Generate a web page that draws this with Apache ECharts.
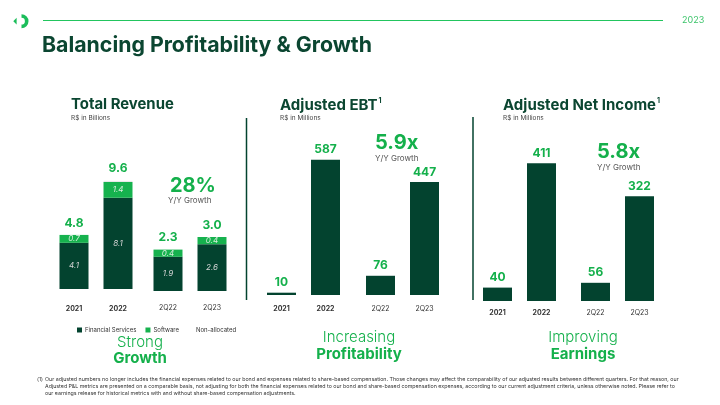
<!DOCTYPE html>
<html>
<head>
<meta charset="utf-8">
<script src="https://cdn.jsdelivr.net/npm/echarts@6/dist/echarts.min.js"></script>
<style>
html,body{margin:0;padding:0;background:#fff;}
#chart{width:720px;height:405px;}
</style>
</head>
<body>
<div id="chart"></div>
<script>
// ---- data ----
const categories = ['2021', '2022', '2Q22', '2Q23'];
const revFinancial = [4.1, 8.1, 1.9, 2.6];
const revSoftware = [0.7, 1.4, 0.4, 0.4];
const revNonAllocated = [0, 0.1, 0, 0];
const revTotals = [4.8, 9.6, 2.3, 3.0];
const ebt = [10, 587, 76, 447];
const netIncome = [40, 411, 56, 322];
const growthRevenue = '28%';
const growthEbt = '5.9x';
const growthNetIncome = '5.8x';

// ---- style ----
const FONT = 'Inter, "Noto Sans", sans-serif';
const DARK = '#03432f';
const GREEN = '#14b04b';
const LIGHT = '#16b24e';
const TITLE = '#0b4631';

const chart = echarts.init(document.getElementById('chart'), null, {renderer: 'canvas'});

const gridDefs = [
  {left: 52, bottom: 116, max: 15},      // rev annual
  {left: 146, bottom: 114, max: 9.5},    // rev quarterly
  {left: 259.5, bottom: 110, max: 760},  // ebt annual
  {left: 358.5, bottom: 110, max: 692},  // ebt quarterly
  {left: 475.5, bottom: 104, max: 540},  // ni annual
  {left: 573.5, bottom: 104, max: 557}   // ni quarterly
];
const labelMargins = [16, 13, 10.5, 10.5, 8.5, 8.5];

const grids = gridDefs.map(g => ({left: g.left, width: 88, top: 120, bottom: g.bottom}));
const xAxes = gridDefs.map((g, i) => ({
  type: 'category', gridIndex: i,
  data: i % 2 === 0 ? categories.slice(0, 2) : categories.slice(2, 4),
  axisLine: {show: false}, axisTick: {show: false},
  axisLabel: {
    margin: labelMargins[i], fontFamily: FONT, fontSize: 7,
    color: '#333', fontWeight: i % 2 === 0 ? 'bold' : 'normal'
  }
}));
const yAxes = gridDefs.map((g, i) => ({
  type: 'value', gridIndex: i, min: 0, max: g.max, show: false,
  splitLine: {show: false}
}));

function part(arr, i) { return i % 2 === 0 ? arr.slice(0, 2) : arr.slice(2, 4); }

const series = [];
[0, 1].forEach(i => {
  const stack = 'rev' + i;
  series.push({
    name: 'Financial Services', type: 'bar', stack, xAxisIndex: i, yAxisIndex: i,
    barWidth: 29, data: part(revFinancial, i),
    itemStyle: {color: DARK},
    label: {show: true, position: 'inside', fontFamily: FONT, fontSize: 8, fontStyle: 'italic',
      color: '#d6d6d6', formatter: p => p.value.toFixed(1)}
  });
  series.push({
    name: 'Software', type: 'bar', stack, xAxisIndex: i, yAxisIndex: i,
    barWidth: 29, data: part(revSoftware, i),
    itemStyle: {color: LIGHT},
    label: {show: true, position: 'inside', fontFamily: FONT, fontSize: 8, fontStyle: 'italic',
      color: '#d9eedf', formatter: p => p.value.toFixed(1)}
  });
  const totals = part(revTotals, i);
  series.push({
    name: 'Non-allocated', type: 'bar', stack, xAxisIndex: i, yAxisIndex: i,
    barWidth: 29, data: part(revNonAllocated, i),
    itemStyle: {color: '#e8e8e8'},
    label: {show: true, position: 'top', distance: 6, fontFamily: FONT, fontSize: 12,
      fontWeight: 'bold', color: GREEN, formatter: p => totals[p.dataIndex].toFixed(1)}
  });
});
[[2, ebt, 'Adjusted EBT'], [3, ebt, 'Adjusted EBT'], [4, netIncome, 'Adjusted Net Income'], [5, netIncome, 'Adjusted Net Income']]
  .forEach(([i, arr, name]) => {
    series.push({
      name, type: 'bar', xAxisIndex: i, yAxisIndex: i, barWidth: 29,
      data: part(arr, i), itemStyle: {color: DARK},
      label: {show: true, position: 'top', distance: 4, fontFamily: FONT, fontSize: 12,
        fontWeight: 'bold', color: GREEN}
    });
  });

function txt(x, y, text, size, color, weight, align) {
  return {type: 'text', x, y, silent: true, style: {
    text, fontFamily: FONT, fontSize: size, fill: color, fontWeight: weight || 'normal',
    textAlign: align || 'left', textVerticalAlign: 'middle'}};
}
function richTitle(x, y, main) {
  return {type: 'text', x, y, silent: true, style: {
    text: '{a|' + main + '}{s|1}', fontFamily: FONT, textVerticalAlign: 'middle',
    rich: {
      a: {fontFamily: FONT, fontSize: 15, fontWeight: 'bold', fill: TITLE, color: TITLE},
      s: {fontFamily: FONT, fontSize: 7, fontWeight: 'bold', fill: TITLE, color: TITLE, verticalAlign: 'top', padding: [0, 0, 6, 1]}
    }}};
}
function vline(x, y1, y2, color, w) {
  return {type: 'line', silent: true, shape: {x1: x, y1, x2: x, y2}, style: {stroke: color, lineWidth: w}};
}

const footnote = [
  'Our adjusted numbers no longer includes the financial expenses related to our bond and expenses related to share-based compensation. Those changes may affect the comparability of our adjusted results between different quarters. For that reason, our',
  'Adjusted P&L metrics are presented on a comparable basis, not adjusting for both the financial expenses related to our bond and share-based compensation expenses, according to our current adjustment criteria, unless otherwise noted. Please refer to',
  'our earnings release for historical metrics with and without share-based compensation adjustments.'
];

const graphics = [
  {type: 'polygon', silent: true, shape: {points: [[16.6, 17.8], [16.6, 24.6], [13.3, 21.2]]}, style: {fill: '#1bbd5a'}},
  {type: 'sector', silent: true, shape: {cx: 21.5, cy: 21.2, r: 7, r0: 3.4, startAngle: -Math.PI / 2, endAngle: Math.PI / 2}, style: {fill: '#1bbd5a'}},
  {type: 'line', silent: true, shape: {x1: 43, y1: 20.5, x2: 663, y2: 20.5}, style: {stroke: '#22c55e', lineWidth: 1.2}},
  txt(682, 20.5, '2023', 9, '#3cc46a'),
  txt(42, 46, 'Balancing Profitability & Growth', 21.3, TITLE, 'bold'),
  txt(71, 105, 'Total Revenue', 14.9, TITLE, 'bold'),
  txt(71, 118, 'R$ in Billions', 6.5, '#444'),
  richTitle(280, 105, 'Adjusted EBT'),
  txt(280, 118, 'R$ in Millions', 6.5, '#444'),
  richTitle(503, 105, 'Adjusted Net Income'),
  txt(503, 118, 'R$ in Millions', 6.5, '#444'),
  vline(246.5, 118, 300, DARK, 1.5),
  vline(473, 117, 300, DARK, 1.5),
  txt(170, 186, growthRevenue, 20, GREEN, 'bold'),
  txt(168, 201, 'Y/Y Growth', 8, '#555'),
  txt(375, 143, growthEbt, 20, GREEN, 'bold'),
  txt(375, 159, 'Y/Y Growth', 8, '#555'),
  txt(597, 152, growthNetIncome, 20, GREEN, 'bold'),
  txt(597, 168, 'Y/Y Growth', 8, '#555'),
  txt(140, 342, 'Strong', 15, GREEN, 300, 'center'),
  txt(140, 358, 'Growth', 15, GREEN, 'bold', 'center'),
  txt(359, 337, 'Increasing', 15, GREEN, 300, 'center'),
  txt(359, 354, 'Profitability', 15, GREEN, 'bold', 'center'),
  txt(583, 337, 'Improving', 15, GREEN, 300, 'center'),
  txt(583, 354, 'Earnings', 15, GREEN, 'bold', 'center'),
  txt(37, 379, '(1)', 5.3, '#333'),
  txt(45, 379, footnote[0], 5.3, '#333'),
  txt(45, 386, footnote[1], 5.3, '#333'),
  txt(45, 393, footnote[2], 5.3, '#333')
];

chart.setOption({
  animation: false,
  backgroundColor: '#fff',
  grid: grids,
  xAxis: xAxes,
  yAxis: yAxes,
  legend: {
    data: ['Financial Services', 'Software', {name: 'Non-allocated', itemStyle: {color: '#ffffff'}}],
    left: 72, top: 322, itemWidth: 5, itemHeight: 5, itemGap: 9, icon: 'rect',
    textStyle: {fontFamily: FONT, fontSize: 6, color: '#333', padding: [0, 0, 0, -2]},
    selectedMode: false
  },
  series,
  graphic: graphics
});
</script>
</body>
</html>
